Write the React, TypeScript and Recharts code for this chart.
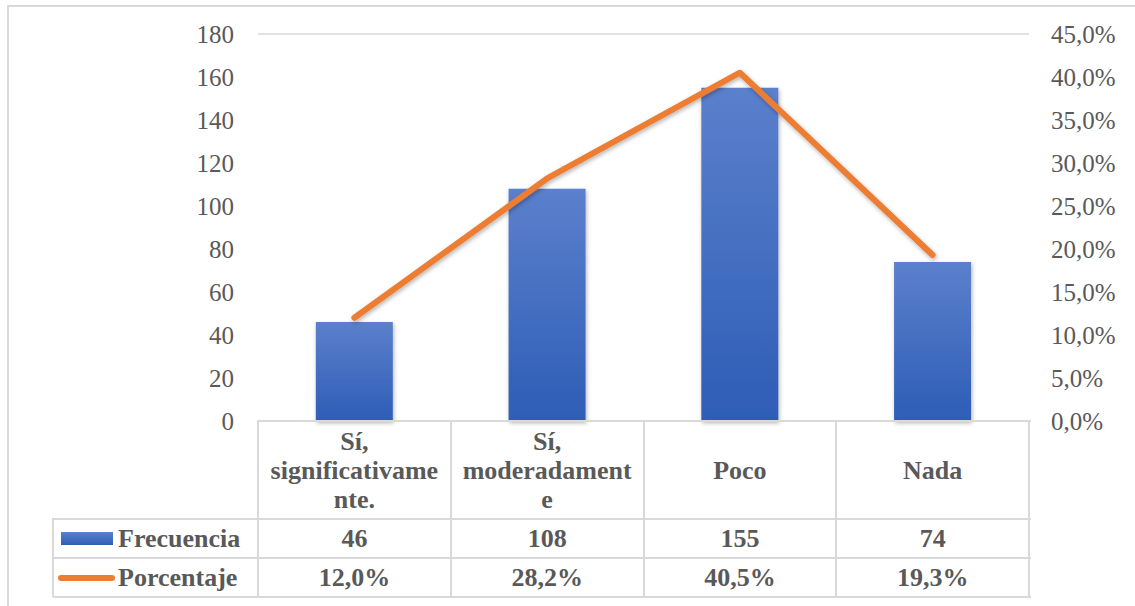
import { Bar, CartesianGrid, ComposedChart, Line, XAxis, YAxis } from "recharts";

const categories = ["Sí, significativamente.", "Sí, moderadamente", "Poco", "Nada"];
const headerLines = [
  ["Sí,", "significativame", "nte."],
  ["Sí,", "moderadament", "e"],
  ["Poco"],
  ["Nada"],
];
const frecuencia = [46, 108, 155, 74];
const porcentaje = [12.0, 28.2, 40.5, 19.3];
const leftTicks = [0, 20, 40, 60, 80, 100, 120, 140, 160, 180];
const rightTicks = [0, 5, 10, 15, 20, 25, 30, 35, 40, 45];

const data = categories.map((name, i) => ({
  name,
  frecuencia: frecuencia[i],
  porcentaje: porcentaje[i],
}));

const W = 1135;
const H = 606;
const PLOT_LEFT = 258;
const PLOT_RIGHT = 1029;
const PLOT_TOP = 34;
const PLOT_BOTTOM = 421;
const AXIS_W = 60;

const GRID = "#d9d9d9";
const TEXT = "#595959";
const BLUE_TOP = "#5b80cc";
const BLUE_BOTTOM = "#2e5db6";
const ORANGE = "#ed7d31";
const FONT = "Tinos, Times, serif";

const fmtPct = (v: number) => v.toFixed(1).replace(".", ",") + "%";

const ROW1 = 519;
const ROW2 = 558;
const ROW3 = 597;
const LEGEND_LEFT = 53;

export default function App() {
  const colW = (PLOT_RIGHT - PLOT_LEFT) / categories.length;

  const cellText: React.CSSProperties = {
    position: "absolute",
    display: "flex",
    alignItems: "center",
    justifyContent: "center",
    textAlign: "center",
    fontFamily: FONT,
    fontWeight: "bold",
    fontSize: 26,
    color: TEXT,
    lineHeight: "29px",
    flexDirection: "column",
  };

  const line = (x: number, y: number, w: number, h: number, key: string) => (
    <div key={key} style={{ position: "absolute", left: x, top: y, width: w, height: h, background: GRID }} />
  );

  return (
    <div style={{ position: "absolute", left: 0, top: 0, width: W, height: H, overflow: "hidden", background: "#fff", fontFamily: FONT }}>
      <div
        style={{
          position: "absolute",
          left: 7,
          top: 5,
          width: W + 20,
          height: H + 20,
          border: `2px solid ${GRID}`,
          boxSizing: "border-box",
        }}
      />
      <div style={{ position: "absolute", left: 0, top: 0 }}>
        <ComposedChart
          width={W}
          height={H}
          data={data}
          margin={{
            top: PLOT_TOP,
            bottom: H - PLOT_BOTTOM,
            left: PLOT_LEFT - AXIS_W,
            right: W - PLOT_RIGHT - AXIS_W,
          }}
          barCategoryGap="30%"
        >
          <defs>
            <linearGradient id="barGrad" x1="0" y1="0" x2="0" y2="1">
              <stop offset="0%" stopColor={BLUE_TOP} />
              <stop offset="100%" stopColor={BLUE_BOTTOM} />
            </linearGradient>
            <filter id="shadow" x="-20%" y="-20%" width="140%" height="140%">
              <feDropShadow dx="1" dy="2" stdDeviation="2" floodColor="#000" floodOpacity="0.3" />
            </filter>
          </defs>
          <CartesianGrid vertical={false} stroke={GRID} strokeWidth={1.5} />
          <XAxis dataKey="name" hide />
          <YAxis
            yAxisId="left"
            orientation="left"
            width={AXIS_W}
            domain={[0, 180]}
            ticks={leftTicks}
            axisLine={false}
            tickLine={false}
            tickSize={0}
            tickMargin={24}
            tick={{ fill: TEXT, fontSize: 25, fontFamily: FONT }}
            interval={0}
          />
          <YAxis
            yAxisId="right"
            orientation="right"
            width={AXIS_W}
            domain={[0, 45]}
            ticks={rightTicks}
            axisLine={false}
            tickLine={false}
            tickSize={0}
            tickMargin={22}
            tickFormatter={fmtPct}
            tick={{ fill: TEXT, fontSize: 25, fontFamily: FONT, textAnchor: "start" }}
            interval={0}
          />
          <Bar
            yAxisId="left"
            dataKey="frecuencia"
            fill="url(#barGrad)"
            filter="url(#shadow)"
            isAnimationActive={false}
          />
          <Line
            yAxisId="right"
            dataKey="porcentaje"
            type="linear"
            stroke={ORANGE}
            strokeWidth={6}
            strokeLinecap="round"
            strokeLinejoin="round"
            dot={false}
            activeDot={false}
            filter="url(#shadow)"
            isAnimationActive={false}
          />
        </ComposedChart>
      </div>

      {/* data table */}
      {line(PLOT_LEFT, PLOT_BOTTOM - 1, PLOT_RIGHT - PLOT_LEFT + 2, 2, "t0")}
      {line(LEGEND_LEFT, ROW1 - 1, PLOT_RIGHT - LEGEND_LEFT + 2, 2, "t1")}
      {line(LEGEND_LEFT, ROW2 - 1, PLOT_RIGHT - LEGEND_LEFT + 2, 2, "t2")}
      {line(LEGEND_LEFT, ROW3 - 1, PLOT_RIGHT - LEGEND_LEFT + 2, 2, "t3")}
      {line(LEGEND_LEFT - 1, ROW1 - 1, 2, ROW3 - ROW1 + 1, "v0")}
      {categories.map((_, i) => line(PLOT_LEFT + i * colW - 1, PLOT_BOTTOM - 1, 2, ROW3 - PLOT_BOTTOM + 1, "v" + (i + 1)))}
      {line(PLOT_RIGHT - 1, PLOT_BOTTOM - 1, 2, ROW3 - PLOT_BOTTOM + 1, "vr")}

      {categories.map((c, i) => (
        <div key={"h" + c} style={{ ...cellText, left: PLOT_LEFT + i * colW, top: PLOT_BOTTOM, width: colW, height: ROW1 - PLOT_BOTTOM }}>
          {headerLines[i].map((l, j) => (
            <div key={j}>{l}</div>
          ))}
        </div>
      ))}
      {frecuencia.map((v, i) => (
        <div key={"f" + i} style={{ ...cellText, left: PLOT_LEFT + i * colW, top: ROW1, width: colW, height: ROW2 - ROW1 }}>
          {v}
        </div>
      ))}
      {porcentaje.map((v, i) => (
        <div key={"p" + i} style={{ ...cellText, left: PLOT_LEFT + i * colW, top: ROW2, width: colW, height: ROW3 - ROW2 }}>
          {fmtPct(v)}
        </div>
      ))}

      <div style={{ ...cellText, flexDirection: "row", justifyContent: "flex-start", left: LEGEND_LEFT, top: ROW1, width: PLOT_LEFT - LEGEND_LEFT, height: ROW2 - ROW1 }}>
        <div
          style={{
            width: 52,
            height: 13,
            marginLeft: 8,
            marginRight: 5,
            background: `linear-gradient(${BLUE_TOP}, ${BLUE_BOTTOM})`,
          }}
        />
        <span>Frecuencia</span>
      </div>
      <div style={{ ...cellText, flexDirection: "row", justifyContent: "flex-start", left: LEGEND_LEFT, top: ROW2, width: PLOT_LEFT - LEGEND_LEFT, height: ROW3 - ROW2 }}>
        <div
          style={{
            width: 57,
            height: 6,
            marginLeft: 5,
            marginRight: 3,
            borderRadius: 3,
            background: ORANGE,
          }}
        />
        <span>Porcentaje</span>
      </div>
    </div>
  );
}
